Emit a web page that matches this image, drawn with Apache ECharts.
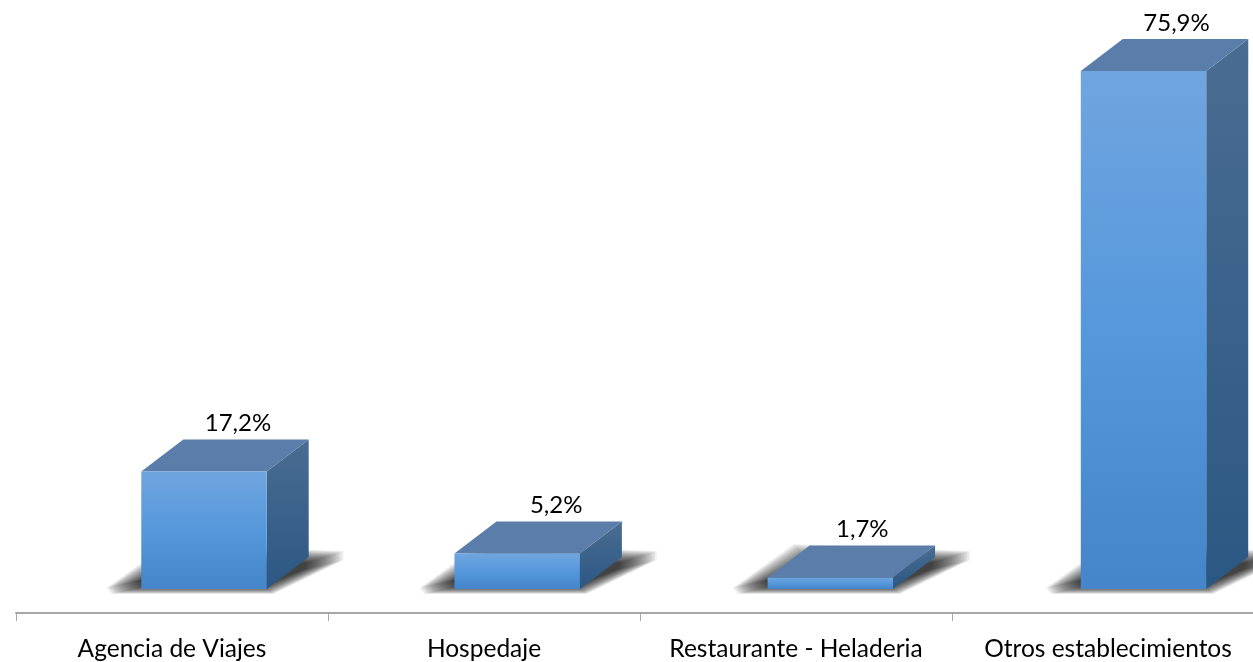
<!DOCTYPE html>
<html><head><meta charset="utf-8">
<style>html,body{margin:0;padding:0;background:#fff}#c{width:1253px;height:662px}</style>
<script src="https://cdn.jsdelivr.net/npm/echarts@6/dist/echarts.min.js"></script>
</head><body><div id="c"></div>
<script>
const categories = ['Agencia de Viajes', 'Hospedaje', 'Restaurante - Heladeria', 'Otros establecimientos'];
const shares = [17.2, 5.2, 1.7, 75.9];

const FONT = 'Lato, "Noto Sans", sans-serif';
const DX = 42, DY = 32, SHADOW_STEPS = 30;
const LABEL_SHIFT = [34, 39, 32, 33];
const chart = echarts.init(document.getElementById('c'), null, {renderer: 'canvas'});
const grad = (a, b, m) => ({type: 'linear', x: 0, y: 0, x2: 0, y2: 1, colorStops: [{offset: 0, color: a}].concat(m ? [{offset: 0.5, color: m}] : [], [{offset: 1, color: b}])});
const mix = (p, q, t) => [p[0] + (q[0] - p[0]) * t, p[1] + (q[1] - p[1]) * t];

function renderItem(params, api) {
  const i = params.dataIndex;
  const base = api.coord([api.value(0), 0]);
  const top = api.coord([api.value(0), api.value(1)]);
  const band = api.size([1, 0])[0];
  const w = band * 0.402;
  const x0 = base[0] + band * 0.1 - w / 2 + 0.8 + i * 1.17, x1 = x0 + w;
  const y0 = base[1], y1 = top[1];
  const poly = (pts, style) => ({type: 'polygon', shape: {points: pts}, style});
  const inner = [[x0 - 2, y0 - 8], [x0 + 4, y0 - 3], [x1 - 4, y0 - 3], [x1 + DX - 4, y0 - DY + 12], [x1 + DX - 2, y0 - DY + 6], [x0 + DX, y0 - DY + 8]];
  const outer = [[x0 - 35, y0 - 1], [x0 - 30, y0 + 5], [x1 + 7, y0 + 5], [x1 + DX + 35, y0 - DY + 3], [x1 + DX + 35, y0 - DY - 6], [x0 + DX - 16, y0 - DY - 13]];
  const shadow = [];
  for (let k = SHADOW_STEPS; k >= 0; k--) {
    const t = Math.pow(k / SHADOW_STEPS, 1.25);
    shadow.push(poly(inner.map((p, j) => mix(p, outer[j], t)), {fill: 'rgba(30,30,30,0.055)'}));
  }
  return {type: 'group', children: shadow.concat([
    poly([[x1, y0], [x1 + DX, y0 - DY], [x1 + DX, y1 - DY], [x1, y1]], {fill: grad('#4A6C92', '#2B5883')}),
    poly([[x0, y1], [x1, y1], [x1 + DX, y1 - DY], [x0 + DX, y1 - DY]], {fill: '#5A7EA9'}),
    {type: 'rect', shape: {x: x0, y: y1, width: w, height: y0 - y1}, style: {fill: grad('#70A5DF', '#4585C9', '#5598DC')}},
    {type: 'text', style: {text: api.value(1).toFixed(1).replace('.', ',') + '%', x: (x0 + x1) / 2 + LABEL_SHIFT[i], y: y1 - 48,
      fill: '#000', font: '24px ' + FONT, align: 'center', verticalAlign: 'middle'}}
  ])};
}

chart.setOption({
  animation: false,
  backgroundColor: '#fff',
  grid: {left: 16, width: 1248, top: 43, height: 546, containLabel: false, outerBoundsMode: 'none'},
  xAxis: {type: 'category', data: categories, offset: 24,
    axisLine: {onZero: false, lineStyle: {color: '#A6A6A6', width: 2}},
    axisTick: {show: true, length: 8, lineStyle: {color: '#A6A6A6', width: 1}},
    axisLabel: {color: '#000', fontFamily: 'Lato', fontSize: 24.5, margin: 24, interval: 0}},
  yAxis: {type: 'value', min: 0, max: 80, show: false},
  series: [{type: 'custom', renderItem, clip: false, data: categories.map((c, i) => [i, shares[i]]), encode: {x: 0, y: 1}}]
});
</script></body></html>
